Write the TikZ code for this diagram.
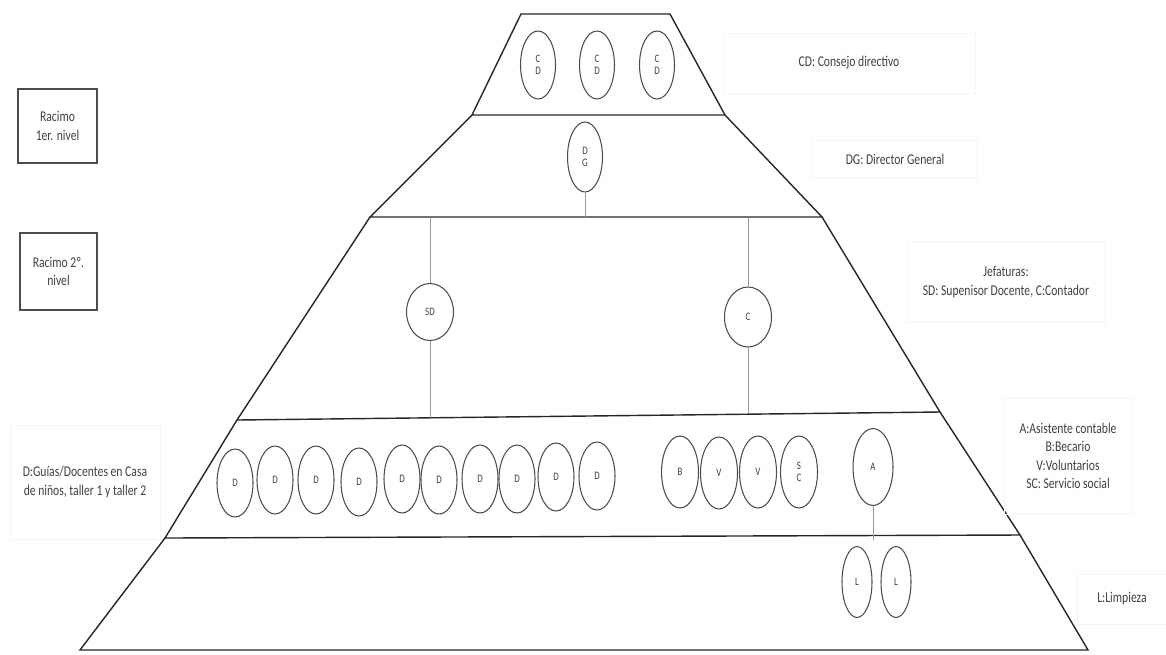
\documentclass[tikz,border=0pt]{standalone}
\usepackage{fontspec}
\setmainfont{Carlito}[FakeStretch=0.78]
\usetikzlibrary{shapes.geometric}

\begin{document}
\begin{tikzpicture}[x=0.02cm, y=-0.02cm, font=\fontsize{8.5}{10.5}\selectfont, text=black!75,
  band/.style={draw=black!85, line width=0.8pt},
  pers/.style={draw=black!70, ellipse, inner sep=0pt, line width=0.6pt, align=center,
    font=\fontsize{6.5}{7}\selectfont},
  link/.style={draw=black!40, line width=0.5pt},
  note/.style={draw=black!4, align=center, inner sep=0pt},
  racimo/.style={draw=black!70, line width=1.1pt, align=center, inner sep=0pt}]
  \useasboundingbox (0,0) rectangle (1166,654);

  % pyramid bands
  \draw[band] (521,14) -- (670,14) -- (725,115) -- (472,115) -- cycle;
  \draw[band] (472,115) -- (370,217) -- (822,217) -- (725,115);
  \draw[band] (370,217) -- (237,420) -- (940,412) -- (822,217);
  \draw[band] (237,420) -- (165,538) -- (1020,535) -- (940,412);
  \draw[band] (165,538) -- (80,650) -- (1088,650) -- (1020,535);

  % consejo directivo
  \foreach \x [count=\i] in {538,597,657}
    \node[pers, minimum width=0.7cm, minimum height=1.36cm] (cd\i) at (\x,65) {C\\D};
  \node[pers, minimum width=0.7cm, minimum height=1.4cm] (dg) at (585,157) {D\\G};
  \coordinate (dgfoot) at (585,217);
  \draw[link] (dg) -- (dgfoot);

  % jefaturas
  \node[pers, minimum width=0.94cm, minimum height=1.14cm] (sd) at (430,312) {SD};
  \node[pers, minimum width=0.94cm, minimum height=1.2cm] (c) at (748,317) {C};
  \coordinate (sdtop) at (430,217);
  \coordinate (sdfoot) at (430,419);
  \coordinate (ctop) at (748,217);
  \coordinate (cfoot) at (748,413);
  \draw[link] (sdtop) -- (sd);
  \draw[link] (sd) -- (sdfoot);
  \draw[link] (ctop) -- (c);
  \draw[link] (c) -- (cfoot);

  % guias / docentes
  \foreach \x/\y [count=\i] in {235/483,275/480,316/480,359/482,402/479,439/480,480/479,517/479,556/477,597/476}
    \node[pers, minimum width=0.72cm, minimum height=1.36cm] (d\i) at (\x,\y) {D};

  % apoyo
  \node[pers, minimum width=0.74cm, minimum height=1.44cm] (b) at (680,472) {B};
  \node[pers, minimum width=0.74cm, minimum height=1.44cm] (v1) at (719,473) {V};
  \node[pers, minimum width=0.74cm, minimum height=1.44cm] (v2) at (758,472) {V};
  \node[pers, minimum width=0.74cm, minimum height=1.44cm] (sc) at (799,472) {S\\C};
  \node[pers, minimum width=0.8cm, minimum height=1.54cm] (a) at (873,467) {A};
  \coordinate (afoot) at (873,540);
  \draw[link] (a) -- (afoot);

  % limpieza
  \node[pers, minimum width=0.6cm, minimum height=1.42cm] (l1) at (857,582) {L};
  \node[pers, minimum width=0.6cm, minimum height=1.42cm] (l2) at (896,582) {L};

  % racimos
  \node[racimo, minimum width=1.58cm, minimum height=1.48cm] (rac1) at (57.5,126) {Racimo\\1er. nivel};
  \node[racimo, minimum width=1.54cm, minimum height=1.54cm] (rac2) at (58.5,271.5) {Racimo 2º.\\nivel};

  % notes
  \node[note, minimum width=5.04cm, minimum height=1.2cm] (ncd) at (849,63) {CD: Consejo directivo};
  \node[note, minimum width=3.3cm, minimum height=0.76cm] (ndg) at (895,159) {DG: Director General};
  \node[note, minimum width=3.96cm, minimum height=1.6cm] (njef) at (1006,282) {Jefaturas:\\SD: Supenisor Docente, C:Contador};
  \node[note, minimum width=2.54cm, minimum height=2.34cm] (napoyo) at (1068,456) {A:Asistente contable\\B:Becario\\V:Voluntarios\\SC: Servicio social};
  \node[note, minimum width=1.8cm, minimum height=1cm] (nl) at (1122,599) {L:Limpieza};
  \node[note, minimum width=3cm, minimum height=2.28cm] (nd) at (85,482) {D:Guías/Docentes en Casa\\de niños, taller 1 y taller 2};
\end{tikzpicture}
\end{document}
